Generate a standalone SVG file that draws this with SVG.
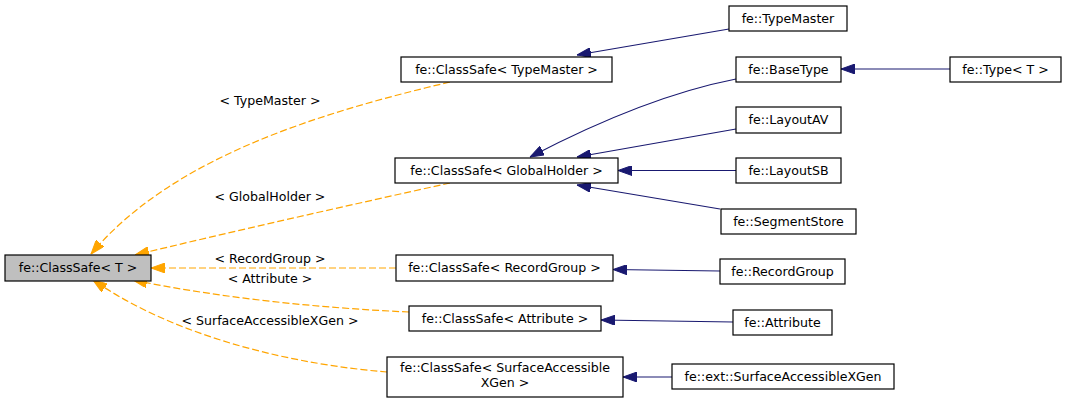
<svg xmlns="http://www.w3.org/2000/svg" width="1067" height="403" viewBox="0 0 1067 403">
<defs>
<marker id="ab" viewBox="0 0 14 10" markerUnits="userSpaceOnUse" markerWidth="14" markerHeight="10" refX="14" refY="5" orient="auto"><path d="M0,0 L14,5 L0,10 z" fill="#191970" stroke="#191970"/></marker>
<marker id="ao" viewBox="0 0 14 10" markerUnits="userSpaceOnUse" markerWidth="14" markerHeight="10" refX="14" refY="5" orient="auto"><path d="M0,0 L14,5 L0,10 z" fill="#ffa500" stroke="#ffa500"/></marker>
</defs>
<style>
text{font-family:"DejaVu Sans","Liberation Sans",sans-serif;font-size:12.6px;fill:#000;text-anchor:middle}
.n rect{fill:#fff;stroke:#000;stroke-width:1.2}
.b{fill:none;stroke:#191970;stroke-width:1.2;marker-end:url(#ab)}
.o{fill:none;stroke:#ffa500;stroke-width:1.2;stroke-dasharray:7,3;marker-end:url(#ao)}
</style>
<rect width="1067" height="403" fill="#fff"/>
<g id="edges">
<path class="o" d="M450,82 C310,115 170,160 91,254"/>
<path class="o" d="M450,183 C350,205 230,232 135,255"/>
<path class="o" d="M396,268 L151,268"/>
<path class="o" d="M409,312 C320,308 220,298 133,280"/>
<path class="o" d="M387,372 C300,365 180,340 93,280"/>
<path class="b" d="M729,29 L577,55"/>
<path class="b" d="M736,79 C690,88 620,110 530,157"/>
<path class="b" d="M736,129 L577,157"/>
<path class="b" d="M736,170.5 L618,170.5"/>
<path class="b" d="M720,209 L577,185"/>
<path class="b" d="M950,69 L841,69"/>
<path class="b" d="M720,271 L613,269.5"/>
<path class="b" d="M733,322 L601,320"/>
<path class="b" d="M672,377 L623,377"/>
<text x="270" y="105">&lt; TypeMaster &gt;</text>
<text x="270" y="201">&lt; GlobalHolder &gt;</text>
<text x="270" y="263">&lt; RecordGroup &gt;</text>
<text x="270" y="283">&lt; Attribute &gt;</text>
<text x="270" y="325">&lt; SurfaceAccessibleXGen &gt;</text>
</g>
<g id="root" class="n"><rect x="5" y="255" width="146" height="26" style="fill:#bfbfbf"/><text x="78" y="272">fe::ClassSafe&lt; T &gt;</text></g>
<g id="cs_typemaster" class="n"><rect x="401" y="57" width="211" height="25"/><text x="506.5" y="73.5">fe::ClassSafe&lt; TypeMaster &gt;</text></g>
<g id="cs_globalholder" class="n"><rect x="395" y="158" width="223" height="25"/><text x="506.5" y="174.5">fe::ClassSafe&lt; GlobalHolder &gt;</text></g>
<g id="typemaster" class="n"><rect x="729" y="6" width="118" height="25"/><text x="788" y="22.5">fe::TypeMaster</text></g>
<g id="basetype" class="n"><rect x="736" y="57" width="105" height="25"/><text x="788.5" y="73.5">fe::BaseType</text></g>
<g id="layoutav" class="n"><rect x="736" y="107" width="105" height="26"/><text x="788.5" y="124">fe::LayoutAV</text></g>
<g id="layoutsb" class="n"><rect x="736" y="158" width="105" height="25"/><text x="788.5" y="174.5">fe::LayoutSB</text></g>
<g id="segmentstore" class="n"><rect x="721" y="209" width="135" height="25"/><text x="788.5" y="225.5">fe::SegmentStore</text></g>
<g id="type_t" class="n"><rect x="950" y="57" width="111" height="25"/><text x="1005.5" y="73.5">fe::Type&lt; T &gt;</text></g>
<g id="cs_recordgroup" class="n"><rect x="396" y="255" width="217" height="26"/><text x="504.5" y="272">fe::ClassSafe&lt; RecordGroup &gt;</text></g>
<g id="recordgroup" class="n"><rect x="720" y="259" width="125" height="25"/><text x="782.5" y="275.5">fe::RecordGroup</text></g>
<g id="cs_attribute" class="n"><rect x="409" y="306" width="192" height="25"/><text x="505" y="322.5">fe::ClassSafe&lt; Attribute &gt;</text></g>
<g id="attribute" class="n"><rect x="733" y="310" width="99" height="25"/><text x="782.5" y="326.5">fe::Attribute</text></g>
<g id="cs_saxgen" class="n"><rect x="387" y="357" width="236" height="40"/><text x="505" y="372">fe::ClassSafe&lt; SurfaceAccessible</text><text x="505" y="387">XGen &gt;</text></g>
<g id="saxgen" class="n"><rect x="672" y="364" width="222" height="25"/><text x="783" y="380.5">fe::ext::SurfaceAccessibleXGen</text></g>
</svg>
